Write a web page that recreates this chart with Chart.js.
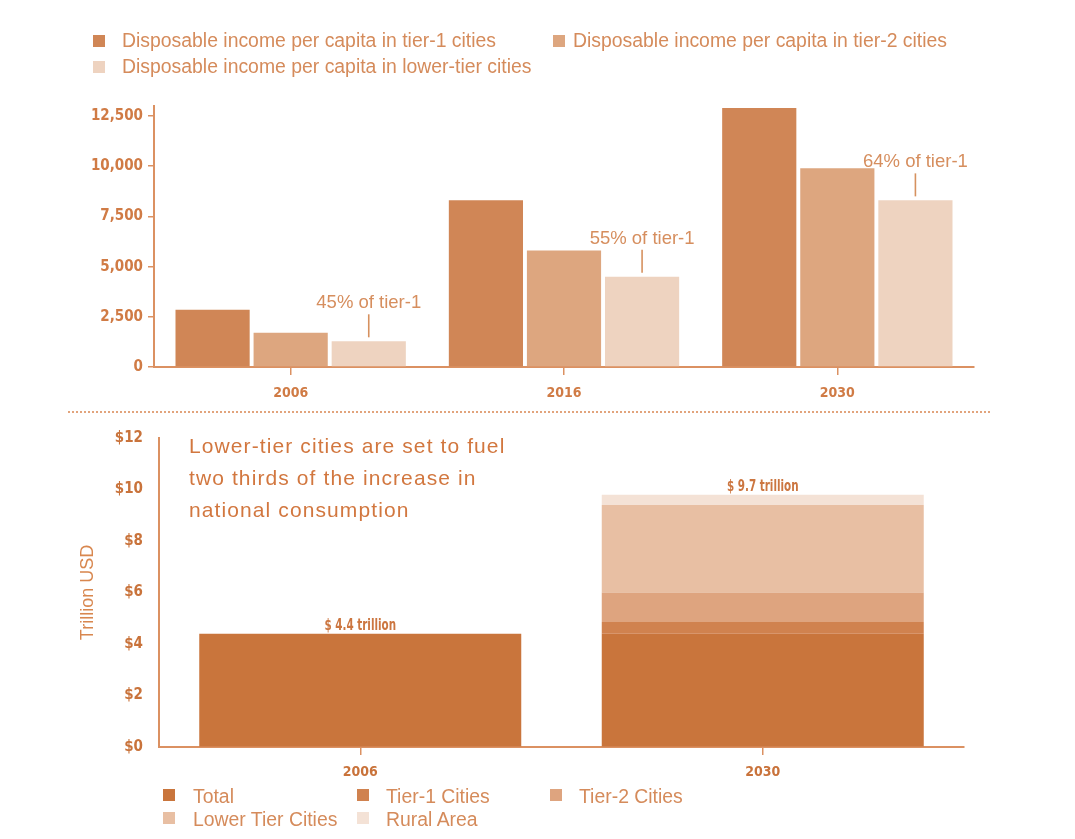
<!DOCTYPE html>
<html>
<head>
<meta charset="utf-8">
<script src="https://cdn.jsdelivr.net/npm/chart.js@4.4.1/dist/chart.umd.min.js"></script>
<style>
html,body{margin:0;padding:0;background:#fff;}
#wrap{position:relative;width:1075px;height:839px;overflow:hidden;background:#fff;}
canvas{position:absolute;left:0;}
#topChart{top:0;}
#botChart{top:411px;}
.lg{position:absolute;font-family:'Liberation Sans',Arial,sans-serif;font-size:19.4px;line-height:19px;color:#D58B5B;white-space:nowrap;}
.bx{position:absolute;width:12px;height:12px;}
#sep{position:absolute;left:68px;top:411px;width:922px;height:0;border-top:2px dotted #E2A47C;}
#headline{position:absolute;left:189px;top:430px;font-family:'Liberation Sans',Arial,sans-serif;font-size:21px;line-height:32px;letter-spacing:1.1px;color:#D2773F;white-space:nowrap;}
</style>
</head>
<body>
<div id="wrap">
  <canvas id="topChart" width="1075" height="410"></canvas>
  <canvas id="botChart" width="1075" height="428"></canvas>
  <div id="sep"></div>
  <div id="headline">Lower-tier cities are set to fuel<br>two thirds of the increase in<br>national consumption</div>
</div>
<script>
// ---------- DATA (top chart) ----------
const years = ['2006', '2016', '2030'];
const seriesNamesTop = [
  'Disposable income per capita in tier-1 cities',
  'Disposable income per capita in tier-2 cities',
  'Disposable income per capita in lower-tier cities'
];
const incomeTier1 = [2850, 8300, 12900];
const incomeTier2 = [1700, 5800, 9900];
const incomeLowerTier = [1280, 4500, 8300];
const shareLabels = ['45% of tier-1', '55% of tier-1', '64% of tier-1'];
const yTicksTop = [0, 2500, 5000, 7500, 10000, 12500];

// ---------- DATA (bottom chart) ----------
const periods = ['2006', '2030'];
const seriesNamesBottom = ['Total', 'Tier-1 Cities', 'Tier-2 Cities', 'Lower Tier Cities', 'Rural Area'];
const consTotal = [4.4, 4.4];
const consTier1 = [null, 0.45];
const consTier2 = [null, 1.15];
const consLowerTier = [null, 3.4];
const consRural = [null, 0.4];
const totalLabels = ['$ 4.4 trillion', '$ 9.7 trillion'];
const yTicksBottom = [0, 2, 4, 6, 8, 10, 12];

// ---------- STYLE ----------
const NARROW = "'Liberation Sans Narrow','DejaVu Sans Condensed','Liberation Sans',sans-serif";
const SANS = "'Liberation Sans',Arial,sans-serif";
const tickColor = '#D07B45';
const axisColor = '#DB9162';
const topColors = ['#D08656', '#DDA67F', '#EED3C0'];
const botColors = ['#C9753C', '#D0824F', '#DEA47F', '#E8BFA3', '#F4E2D6'];

Chart.defaults.animation = false;

// annotation plugin: "xx% of tier-1" above lower-tier bars
const shareAnnot = {
  id: 'shareAnnot',
  afterDatasetsDraw(chart) {
    const meta = chart.getDatasetMeta(2);
    const ctx = chart.ctx;
    ctx.save();
    ctx.strokeStyle = '#D6915F';
    ctx.lineWidth = 1.6;
    ctx.fillStyle = '#D68E5E';
    ctx.font = '18.5px ' + SANS;
    ctx.textAlign = 'center';
    ctx.textBaseline = 'alphabetic';
    meta.data.forEach((bar, i) => {
      const x = bar.x, y = bar.y;
      ctx.beginPath();
      ctx.moveTo(x, y - 4);
      ctx.lineTo(x, y - 27);
      ctx.stroke();
      ctx.fillText(shareLabels[i], x, y - 33);
    });
    ctx.restore();
  }
};

// total label plugin above stacks (condensed lettering)
const totalAnnot = {
  id: 'totalAnnot',
  afterDatasetsDraw(chart) {
    const ctx = chart.ctx;
    chart.data.labels.forEach((lab, i) => {
      let topY = Infinity, x = 0;
      chart.data.datasets.forEach((ds, d) => {
        const v = ds.data[i];
        if (v !== null && v !== undefined) {
          const el = chart.getDatasetMeta(d).data[i];
          if (el.y < topY) { topY = el.y; x = el.x; }
        }
      });
      ctx.save();
      ctx.fillStyle = '#CC7640';
      ctx.font = 'bold 16px ' + NARROW;
      ctx.textAlign = 'center';
      ctx.textBaseline = 'alphabetic';
      ctx.translate(x, topY - 4);
      ctx.scale(0.72, 1);
      ctx.fillText(totalLabels[i], 0, 0);
      ctx.restore();
    });
  }
};

const topChart = new Chart(document.getElementById('topChart'), {
  type: 'bar',
  data: {
    labels: years,
    datasets: [
      { label: seriesNamesTop[0], data: incomeTier1, backgroundColor: topColors[0] },
      { label: seriesNamesTop[1], data: incomeTier2, backgroundColor: topColors[1] },
      { label: seriesNamesTop[2], data: incomeLowerTier, backgroundColor: topColors[2] }
    ]
  },
  options: {
    responsive: false,
    devicePixelRatio: 1,
    layout: { padding: { left: 0, right: 101, top: 106, bottom: 0 } },
    plugins: { legend: { display: false }, tooltip: { enabled: false } },
    datasets: { bar: { barPercentage: 0.95, categoryPercentage: 0.857, borderWidth: 0 } },
    scales: {
      x: {
        grid: { offset: false, drawOnChartArea: false, tickLength: 8, color: axisColor, lineWidth: 1.5 },
        border: { color: axisColor, width: 2 },
        ticks: { color: tickColor, font: { family: NARROW, size: 14, weight: 'bold' }, padding: 10 },
        afterFit(s) { s.height = 43; }
      },
      y: {
        min: 0, max: 13000,
        afterBuildTicks(s) { s.ticks = yTicksTop.map(v => ({ value: v })); },
        grid: { drawOnChartArea: false, tickLength: 6, color: axisColor, lineWidth: 1.5 },
        border: { color: axisColor, width: 2 },
        ticks: {
          color: tickColor, padding: 5,
          font: { family: NARROW, size: 15, weight: 'bold' },
          callback: v => v.toLocaleString('en-US')
        },
        afterFit(s) { s.width = 154; }
      }
    }
  },
  plugins: [shareAnnot]
});

const botChart = new Chart(document.getElementById('botChart'), {
  type: 'bar',
  data: {
    labels: periods,
    datasets: [
      { label: seriesNamesBottom[0], data: consTotal, backgroundColor: botColors[0] },
      { label: seriesNamesBottom[1], data: consTier1, backgroundColor: botColors[1] },
      { label: seriesNamesBottom[2], data: consTier2, backgroundColor: botColors[2] },
      { label: seriesNamesBottom[3], data: consLowerTier, backgroundColor: botColors[3] },
      { label: seriesNamesBottom[4], data: consRural, backgroundColor: botColors[4] }
    ]
  },
  options: {
    responsive: false,
    devicePixelRatio: 1,
    layout: { padding: { left: 0, right: 111, top: 27, bottom: 0 } },
    plugins: { legend: { display: false }, tooltip: { enabled: false } },
    datasets: { bar: { barPercentage: 1, categoryPercentage: 0.8, borderWidth: 0 } },
    scales: {
      x: {
        stacked: true,
        grid: { offset: false, drawOnChartArea: false, tickLength: 8, color: axisColor, lineWidth: 1.5 },
        border: { color: axisColor, width: 2 },
        ticks: { color: '#C9733B', font: { family: NARROW, size: 14, weight: 'bold' }, padding: 9 },
        afterFit(s) { s.height = 92; }
      },
      y: {
        stacked: true,
        min: 0, max: 12,
        afterBuildTicks(s) { s.ticks = yTicksBottom.map(v => ({ value: v })); },
        grid: { drawOnChartArea: false, drawTicks: false },
        border: { color: axisColor, width: 2 },
        ticks: {
          color: '#C9733B', padding: 16,
          font: { family: NARROW, size: 15, weight: 'bold' },
          callback: v => '$' + v
        },
        title: {
          display: true, text: 'Trillion USD', color: '#D8874F',
          font: { family: SANS, size: 18 }, padding: { top: 77, bottom: 0 }
        },
        afterFit(s) { s.width = 159; }
      }
    }
  },
  plugins: [totalAnnot]
});

// ---------- HTML legends built from the datasets ----------
const wrap = document.getElementById('wrap');
function addLegendItem(label, color, boxX, boxY, textX, baseline) {
  const b = document.createElement('div');
  b.className = 'bx';
  b.style.left = boxX + 'px'; b.style.top = boxY + 'px'; b.style.background = color;
  wrap.appendChild(b);
  const t = document.createElement('div');
  t.className = 'lg';
  t.textContent = label;
  t.style.left = textX + 'px'; t.style.top = (baseline - 16) + 'px';
  wrap.appendChild(t);
}
const topLegendLayout = [
  { bx: 93, by: 35, tx: 122, bl: 47 },
  { bx: 553, by: 35, tx: 573, bl: 47 },
  { bx: 93, by: 61, tx: 122, bl: 73 }
];
topChart.data.datasets.forEach((ds, i) => {
  const L = topLegendLayout[i];
  addLegendItem(ds.label, ds.backgroundColor, L.bx, L.by, L.tx, L.bl);
});
const botLegendLayout = [
  { bx: 163, by: 789, tx: 193, bl: 803 },
  { bx: 357, by: 789, tx: 386, bl: 803 },
  { bx: 550, by: 789, tx: 579, bl: 803 },
  { bx: 163, by: 812, tx: 193, bl: 826 },
  { bx: 357, by: 812, tx: 386, bl: 826 }
];
botChart.data.datasets.forEach((ds, i) => {
  const L = botLegendLayout[i];
  addLegendItem(ds.label, ds.backgroundColor, L.bx, L.by, L.tx, L.bl);
});
</script>
</body>
</html>
